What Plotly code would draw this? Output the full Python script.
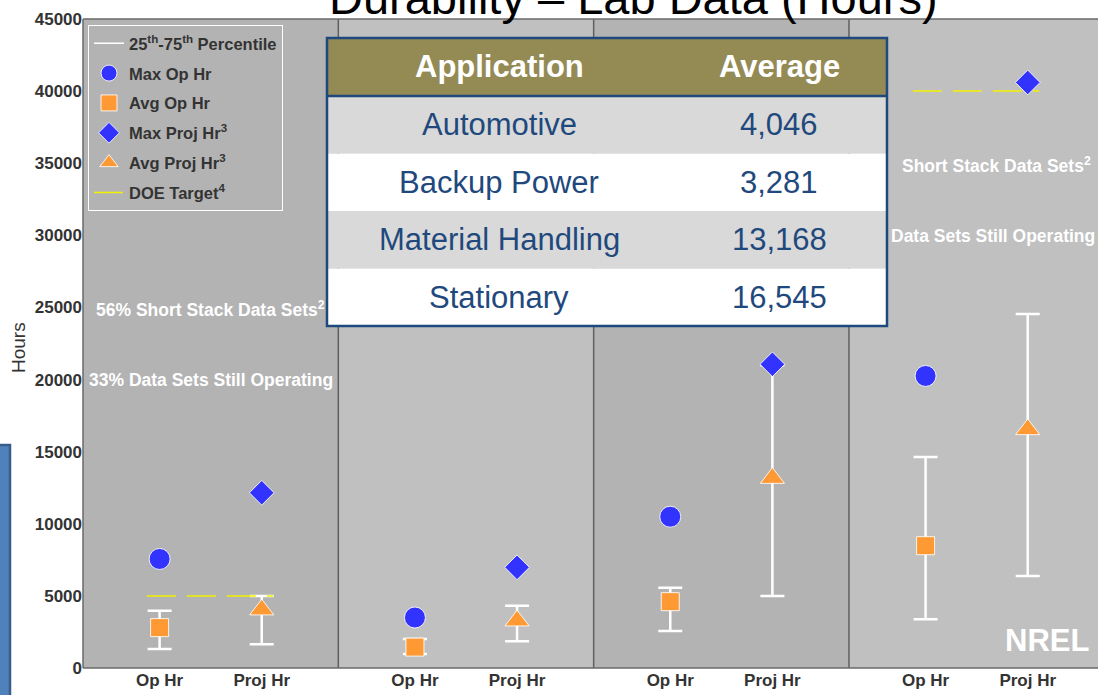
import plotly.graph_objects as go

# ---------------- data ----------------
applications = ["Automotive", "Backup Power", "Material Handling", "Stationary"]
table_average = [4046, 3281, 13168, 16545]

max_op = [7560, 3500, 10490, 20250]
avg_op = [2800, 1450, 4600, 8480]
op_q25 = [1320, 970, 2570, 3380]
op_q75 = [3970, 2010, 5570, 14630]

max_proj = [12150, 6980, 21060, 40600]
avg_proj = [4046, 3281, 13168, 16545]
proj_q25 = [1650, 1850, 5000, 6380]
proj_q75 = [5000, 4320, 21000, 24550]

doe_target = [5000, None, None, 40000]

x_labels = ["Op Hr", "Proj Hr"]
y_ticks = [0, 5000, 10000, 15000, 20000, 25000, 30000, 35000, 40000, 45000]

# ---------------- layout helpers ----------------
W, H = 1098, 695
PL, PT, PW, PH = 83, 19, 1015, 649
def fx(px):
    return (px - PL) / PW
def fy(py):
    return (PT + PH - py) / PH

ARIAL = "Liberation Sans, Arial, sans-serif"
PANEL_W = PW / 255.33
OP_OFF, PROJ_OFF = 0.3, 0.7
BLUE, ORANGE, YELLOW = "#3333ff", "#ff9933", "#f2f200"
NAVY = "#1f497d"

n = len(applications)
op_x = [i + OP_OFF for i in range(n)]
proj_x = [i + PROJ_OFF for i in range(n)]

fig = go.Figure()

# percentile bars (25th-75th)
fig.add_trace(go.Scatter(
    x=op_x + proj_x, y=op_q25 + proj_q25, mode="markers",
    marker=dict(size=1, color="rgba(0,0,0,0)"),
    error_y=dict(type="data", symmetric=False,
                 array=[b - a for a, b in zip(op_q25 + proj_q25, op_q75 + proj_q75)],
                 arrayminus=[0] * (2 * n), color="white", thickness=2.5, width=12),
    showlegend=False, hoverinfo="skip"))

# DOE target lines
dx, dy = [], []
for i, t in enumerate(doe_target):
    if t is not None:
        dx += [i + 0.25, i + 0.745, None]
        dy += [t, t, None]
fig.add_trace(go.Scatter(x=dx, y=dy, mode="lines", name="DOE Target<sup>4</sup>",
                         line=dict(color=YELLOW, width=1.5, dash="29px,11px"),
                         legendgroup="g6", legendrank=6))

fig.add_trace(go.Scatter(x=[None], y=[None], mode="lines",
                         name="25<sup>th</sup>-75<sup>th</sup> Percentile",
                         line=dict(color="white", width=1.5),
                         legendgroup="g1", legendrank=1))

mline = dict(color="rgba(255,255,255,0.85)", width=1)
fig.add_trace(go.Scatter(x=op_x, y=max_op, mode="markers", name="Max Op Hr",
                         marker=dict(symbol="circle", size=21, color=BLUE, line=mline),
                         legendgroup="g2", legendrank=2))
fig.add_trace(go.Scatter(x=op_x, y=avg_op, mode="markers", name="Avg Op Hr",
                         marker=dict(symbol="square", size=18, color=ORANGE, line=mline),
                         legendgroup="g3", legendrank=3))
fig.add_trace(go.Scatter(x=proj_x, y=max_proj, mode="markers", name="Max Proj Hr<sup>3</sup>",
                         marker=dict(symbol="diamond", size=19, color=BLUE, line=mline),
                         legendgroup="g4", legendrank=4))
fig.add_trace(go.Scatter(x=proj_x, y=avg_proj, mode="markers", name="Avg Proj Hr<sup>3</sup>",
                         marker=dict(symbol="triangle-up", size=21, color=ORANGE, line=mline),
                         legendgroup="g5", legendrank=5))

shapes = []
for i in range(n):
    shapes.append(dict(type="rect", xref="x", yref="paper", x0=i, x1=i + 1, y0=0, y1=1,
                       fillcolor="#b3b3b3" if i % 2 == 0 else "#c0c0c0",
                       line=dict(width=0), layer="below"))
for i in range(1, n):
    shapes.append(dict(type="line", xref="x", yref="paper", x0=i, x1=i, y0=0, y1=1,
                       line=dict(color="#5f5f5f", width=1.5), layer="below"))
# plot frame
for s in [dict(x0=0, x1=0, y0=0, y1=1), dict(x0=0, x1=1.01, y0=1, y1=1),
          dict(x0=0, x1=1.01, y0=0, y1=0)]:
    shapes.append(dict(type="line", xref="paper", yref="paper",
                       line=dict(color="#6a6a6a", width=1.5), **s))
# blue slide element at left
shapes.append(dict(type="rect", xref="paper", yref="paper", x0=fx(-6), x1=fx(10),
                   y0=fy(700), y1=fy(445), fillcolor="#4f81bd",
                   line=dict(color="#385d8a", width=2.5)))

# table
T_L, T_R, T_T = 327, 887, 38
HDR_H, ROW_H = 58, 57.5
shapes.append(dict(type="rect", xref="paper", yref="paper", x0=fx(T_L), x1=fx(T_R),
                   y0=fy(T_T + HDR_H), y1=fy(T_T), fillcolor="#948a54",
                   line=dict(width=0), layer="above"))
for r in range(n):
    top = T_T + HDR_H + r * ROW_H
    shapes.append(dict(type="rect", xref="paper", yref="paper", x0=fx(T_L), x1=fx(T_R),
                       y0=fy(top + ROW_H), y1=fy(top),
                       fillcolor="#d9d9d9" if r % 2 == 0 else "white",
                       line=dict(width=0), layer="above"))
shapes.append(dict(type="line", xref="paper", yref="paper", x0=fx(T_L), x1=fx(T_R),
                   y0=fy(T_T + HDR_H), y1=fy(T_T + HDR_H),
                   line=dict(color=NAVY, width=2.5), layer="above"))
shapes.append(dict(type="rect", xref="paper", yref="paper", x0=fx(T_L), x1=fx(T_R),
                   y0=fy(T_T + HDR_H + n * ROW_H), y1=fy(T_T),
                   line=dict(color=NAVY, width=2.5), layer="above"))

annotations = []
C1, C2 = 499, 779
annotations.append(dict(text="<b>Application</b>", x=fx(C1), y=fy(T_T + HDR_H / 2),
                        font=dict(family=ARIAL, size=31, color="white")))
annotations.append(dict(text="<b>Average</b>", x=fx(C2), y=fy(T_T + HDR_H / 2),
                        font=dict(family=ARIAL, size=31, color="white")))
for r, (app, avg) in enumerate(zip(applications, table_average)):
    yc = fy(T_T + HDR_H + r * ROW_H + ROW_H / 2)
    annotations.append(dict(text=app, x=fx(C1), y=yc,
                            font=dict(family=ARIAL, size=31, color=NAVY)))
    annotations.append(dict(text=f"{avg:,}", x=fx(C2), y=yc,
                            font=dict(family=ARIAL, size=31, color=NAVY)))
for a in annotations:
    a.update(xref="paper", yref="paper", showarrow=False, xanchor="center", yanchor="middle")

note_font = dict(family=ARIAL, size=17.5, color="white", weight="bold")
annotations += [
    dict(text="56% Short Stack Data Sets<sup>2</sup>", xref="x", x=0.5, yref="paper", y=fy(309),
         xanchor="center", yanchor="middle", showarrow=False, font=note_font),
    dict(text="33% Data Sets Still Operating", xref="x", x=0.5, yref="paper", y=fy(380),
         xanchor="center", yanchor="middle", showarrow=False, font=note_font),
    dict(text="Short Stack Data Sets<sup>2</sup>", xref="paper", x=fx(1093), yref="paper", y=fy(165),
         xanchor="right", yanchor="middle", showarrow=False, font=note_font),
    dict(text="Data Sets Still Operating", xref="paper", x=fx(1097), yref="paper", y=fy(236),
         xanchor="right", yanchor="middle", showarrow=False, font=note_font),
    dict(text="<b>NREL</b>", xref="paper", x=fx(1091), yref="paper", y=fy(660),
         xanchor="right", yanchor="bottom", showarrow=False,
         font=dict(family=ARIAL, size=31, color="white")),
    dict(text="Durability \u2013 Lab Data (Hours)", xref="paper", x=fx(633.5), yref="paper",
         y=fy(26), xanchor="center", yanchor="bottom", showarrow=False,
         font=dict(family=ARIAL, size=47, color="black")),
    dict(text="Hours", xref="paper", x=fx(19), yref="paper", y=fy(348), textangle=-90,
         xanchor="center", yanchor="middle", showarrow=False,
         font=dict(family=ARIAL, size=19, color="#333333")),
]

tick_font = dict(family=ARIAL, size=17, color="#333333", weight="bold")
fig.update_layout(
    width=W, height=H,
    margin=dict(l=PL, r=W - PL - PW, t=PT, b=H - PT - PH),
    paper_bgcolor="white", plot_bgcolor="#b3b3b3",
    xaxis=dict(range=[0, PANEL_W], tickmode="array",
               tickvals=op_x + proj_x, ticktext=[x_labels[0]] * n + [x_labels[1]] * n,
               showgrid=False, zeroline=False, showline=False, ticks="",
               tickfont=tick_font, fixedrange=True),
    yaxis=dict(range=[0, 45000], tickmode="array", tickvals=y_ticks,
               ticktext=[str(v) for v in y_ticks],
               showgrid=False, zeroline=False, showline=False, ticks="",
               tickfont=tick_font, fixedrange=True),
    legend=dict(x=fx(88), y=fy(25), xanchor="left", yanchor="top",
                bgcolor="#b3b3b3", bordercolor="white", borderwidth=1,
                font=dict(family=ARIAL, size=16.5, color="#333333", weight="bold"),
                traceorder="grouped", tracegroupgap=5.4, itemsizing="trace"),
    shapes=shapes, annotations=annotations, showlegend=True,
)

fig.write_html("out.html", config={"displayModeBar": False},
               post_script="document.body.style.margin='0';document.body.style.overflow='hidden';")
